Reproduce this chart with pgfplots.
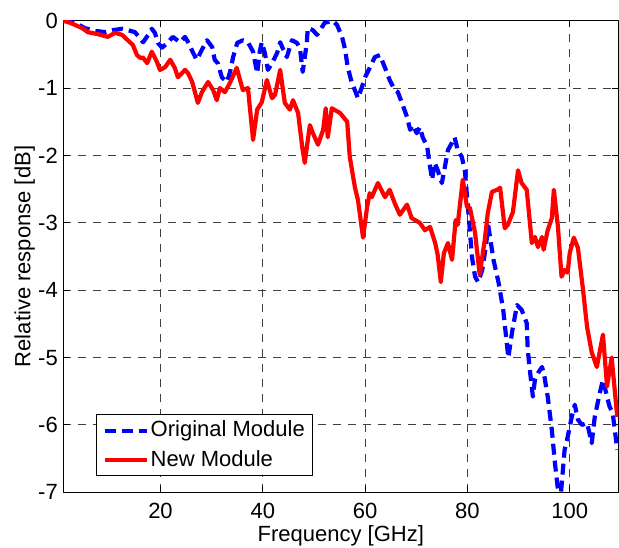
\documentclass[border=0pt]{standalone}
\usepackage{pgfplots}
\pgfplotsset{compat=1.18}
\usepackage{fontspec}
\setmainfont{Liberation Sans}
\pgfplotstableread{
f v
1.0 0
2.3 -0.03
4.7 -0.11
5.8 -0.17
7.8 -0.20
9.7 -0.24
11.1 -0.18
12.5 -0.21
13.6 -0.29
14.6 -0.36
15.4 -0.51
16.0 -0.55
16.6 -0.55
17.4 -0.63
18.3 -0.46
19.3 -0.61
19.9 -0.73
20.9 -0.69
21.9 -0.58
22.8 -0.70
23.4 -0.84
24.8 -0.73
25.4 -0.78
26.2 -0.91
27.3 -1.22
28.1 -1.06
29.3 -0.91
30.3 -1.03
31.0 -1.18
31.6 -1.00
32.6 -1.06
33.6 -0.92
34.9 -0.70
36.1 -1.03
37.1 -1.00
38.1 -1.77
38.9 -1.32
39.8 -1.21
40.8 -0.88
41.8 -1.15
42.4 -1.10
43.4 -0.73
44.3 -1.22
45.3 -1.32
45.9 -1.18
46.9 -1.37
47.7 -1.87
48.2 -2.11
49.2 -1.55
49.8 -1.67
50.8 -1.84
51.8 -1.62
52.3 -1.30
52.7 -1.73
53.5 -1.30
55.1 -1.37
56.5 -1.50
57.0 -2.02
58.0 -2.47
58.6 -2.66
59.6 -3.22
60.4 -2.76
60.9 -2.56
61.3 -2.62
62.5 -2.41
63.9 -2.62
64.8 -2.51
65.8 -2.71
66.8 -2.88
68.2 -2.73
69.1 -2.93
70.7 -3.00
71.7 -3.11
72.7 -3.06
73.7 -3.30
74.2 -3.48
74.8 -3.88
75.4 -3.45
76.2 -3.30
77.0 -3.55
77.7 -2.96
78.1 -3.03
79.1 -2.36
79.9 -2.76
80.5 -2.78
81.5 -3.15
82.4 -3.77
83.4 -3.25
84.0 -2.85
84.8 -2.54
85.8 -2.51
86.4 -2.48
87.3 -3.08
87.9 -3.03
88.9 -2.84
89.9 -2.22
90.6 -2.41
91.6 -2.51
92.6 -3.30
93.2 -3.21
93.8 -3.36
94.6 -3.21
94.9 -3.40
95.7 -3.11
96.5 -2.93
96.9 -2.51
97.7 -3.06
98.4 -3.80
99.0 -3.70
99.6 -3.74
100.0 -3.45
100.8 -3.22
101.6 -3.37
102.6 -3.99
103.4 -4.55
104.3 -4.92
105.3 -5.14
106.5 -4.66
107.3 -5.43
108.2 -5.00
109.3 -5.88
}\newdata
\pgfplotstableread{
f v
1.0 0
3.3 -0.03
5.2 -0.11
7.2 -0.15
9.2 -0.17
10.7 -0.14
12.5 -0.12
13.6 -0.14
15.0 -0.17
16.0 -0.26
16.6 -0.32
17.6 -0.21
18.3 -0.12
18.9 -0.18
19.5 -0.33
20.3 -0.40
21.5 -0.32
22.4 -0.24
23.8 -0.32
24.8 -0.24
25.4 -0.32
26.4 -0.48
27.1 -0.58
28.1 -0.43
29.1 -0.29
30.1 -0.39
30.6 -0.58
31.2 -0.63
32.0 -0.84
33.0 -0.91
33.6 -0.76
34.2 -0.54
35.0 -0.33
36.1 -0.29
37.1 -0.32
38.1 -0.46
38.9 -0.78
39.4 -0.46
39.8 -0.32
40.4 -0.48
41.0 -0.73
41.8 -0.63
42.8 -0.48
43.4 -0.32
43.9 -0.41
44.7 -0.54
45.7 -0.29
46.7 -0.33
47.3 -0.43
47.8 -0.76
48.6 -0.33
48.8 -0.11
49.8 -0.14
50.6 -0.21
51.2 -0.14
52.1 -0.03
52.7 -0.02
53.7 0.0
54.5 -0.06
55.5 -0.24
56.1 -0.43
56.6 -0.69
57.4 -0.92
58.0 -1.03
58.6 -1.15
59.4 -0.98
60.0 -0.84
60.9 -0.70
61.9 -0.54
62.9 -0.51
63.9 -0.70
64.8 -0.88
65.8 -1.03
66.4 -1.06
67.2 -1.22
68.2 -1.43
68.8 -1.62
69.3 -1.55
70.1 -1.67
70.7 -1.58
71.3 -1.74
72.1 -1.85
72.7 -2.17
73.1 -2.36
73.6 -2.11
74.2 -2.22
75.0 -2.41
75.6 -2.17
76.2 -1.92
77.0 -1.81
77.5 -1.73
78.1 -1.92
78.9 -2.02
79.5 -2.22
80.1 -2.76
80.9 -3.51
81.5 -3.80
82.1 -3.88
82.9 -3.70
83.5 -3.40
84.1 -3.05
85.1 -3.55
86.1 -3.89
87.0 -4.29
88.0 -5.00
88.8 -4.59
89.7 -4.22
90.6 -4.29
91.6 -4.49
91.8 -4.89
92.2 -5.18
92.8 -5.58
93.2 -5.33
93.8 -5.23
94.6 -5.14
95.1 -5.30
95.7 -5.58
96.5 -6.07
97.1 -6.56
97.7 -6.96
98.3 -7.00
99.0 -6.37
99.6 -6.18
100.4 -5.88
101.0 -5.70
101.6 -5.92
102.4 -6.00
103.4 -5.97
104.3 -6.27
104.9 -5.88
105.9 -5.52
106.5 -5.33
107.3 -5.58
107.8 -5.73
108.4 -5.82
109.3 -6.37
}\olddata
\begin{document}
\fontsize{22}{26}\selectfont
\begin{tikzpicture}
\begin{axis}[
  scale only axis, width=555pt, height=471.6pt,
  xmin=1, xmax=109.5, ymin=-7, ymax=0,
  xtick={20,40,60,80,100}, ytick={-7,-6,-5,-4,-3,-2,-1,0},
  grid=major,
  major grid style={black!75, line width=1.1pt, dash pattern=on 8pt off 7pt},
  axis line style={line width=1.3pt},
  tick style={black, line width=1pt}, major tick length=6pt, tick align=inside,
  /pgf/number format/assume math mode=true,
  ticklabel style={font=\fontsize{22}{26}\selectfont},
  xticklabel style={inner sep=0pt, yshift=-11pt},
  yticklabel style={xshift=2pt},
  label style={font=\fontsize{22}{26}\selectfont, inner sep=0pt},
  xlabel={Frequency [GHz]}, ylabel={Relative response [dB]},
  xlabel style={at={([yshift=-49.5pt]axis description cs:0.5,0)}, anchor=base},
  ylabel style={at={([xshift=-33pt]axis description cs:0,0.5)}, anchor=base},
  legend style={at={(0.059,0.0346)}, anchor=south west, draw=black, line width=1pt,
    fill=white, font=\fontsize{22}{26}\selectfont, inner xsep=6pt, inner ysep=4pt,
    row sep=6pt, cells={anchor=west}},
  legend image code/.code={\draw[#1] (0pt,0pt) -- (42pt,0pt);},
  line join=round,
]
\addplot[blue, line width=4.2pt, dash pattern=on 11pt off 6pt] table[x=f,y=v] {\olddata};
\addlegendentry{Original Module}
\addplot[red, line width=4.2pt] table[x=f,y=v] {\newdata};
\addlegendentry{New Module}
\end{axis}
\pgfresetboundingbox
\path[use as bounding box] (-63.3pt,-54.7pt) rectangle (555.7pt,492.3pt);
\end{tikzpicture}
\end{document}
